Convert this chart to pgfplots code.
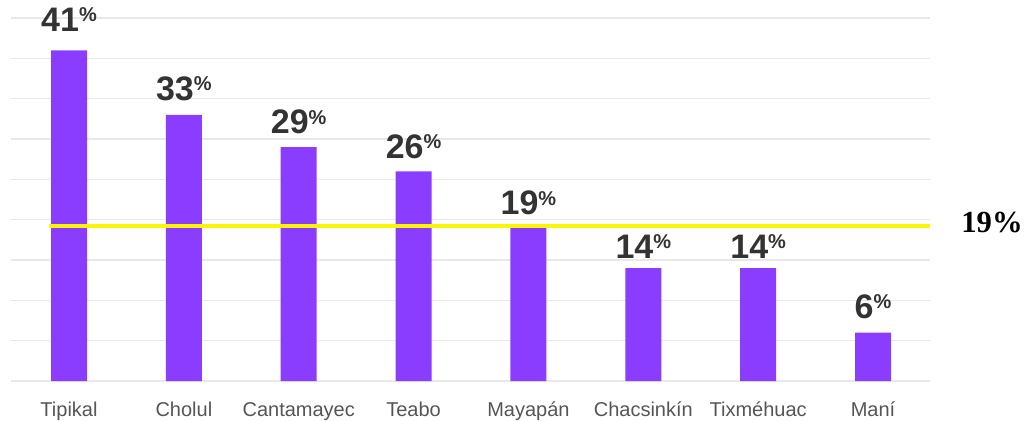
\documentclass[border=0pt]{standalone}
\usepackage{pgfplots}
\pgfplotsset{compat=1.18}
\usepackage{fontspec}
\setmainfont{Liberation Sans}
\newfontfamily\serifb{Liberation Serif}
\definecolor{barpurple}{HTML}{8A3CFF}
\definecolor{labdark}{HTML}{333333}
\definecolor{tickgray}{HTML}{555555}
\definecolor{gridgray}{HTML}{E8E8E8}
\definecolor{refyellow}{HTML}{FAF500}
\begin{document}
\begin{tikzpicture}[x=0.75pt,y=0.75pt]
\begin{axis}[
  at={(8.25pt,30pt)}, anchor=south west,
  scale only axis,
  width=689.25pt, height=272.25pt,
  xmin=-0.505, xmax=7.496,
  ymin=0, ymax=45,
  ytick={0,5,...,45},
  yticklabels={},
  ymajorgrids,
  grid style={gridgray, line width=1pt},
  axis line style={draw=none},
  major tick length=0pt,
  xtick={0,...,7},
  xticklabels={Tipikal,Cholul,Cantamayec,Teabo,Mayap\'an,Chacsink\'in,Tixm\'ehuac,Man\'i},
  xticklabel style={font=\fontsize{15}{15}\selectfont, text=tickgray, anchor=base, yshift=-26.5pt},
  clip=false,
  /pgf/number format/assume math mode=true,
]
% bars
\addplot[ybar, bar width=27pt, fill=barpurple, draw=none] coordinates {
  (0,41) (1,33) (2,29) (3,26) (4,19) (5,14) (6,14) (7,6)
};
% reference line (average 19%)
\addplot[sharp plot, refyellow, line width=3pt, forget plot] coordinates {(-0.174,19.2) (7.496,19.2)};
% value labels (baseline positions, meta = bar value)
\addplot[draw=none, mark=none, point meta=explicit,
  nodes near coords={\fontsize{25.5}{25.5}\selectfont\bfseries\pgfmathprintnumber{\pgfplotspointmeta}\raisebox{7.3pt}{\fontsize{15}{15}\selectfont\%}},
  every node near coord/.style={anchor=base, inner sep=0pt, text=labdark}]
coordinates {
  (0,43.30) [41] (1,34.75) [33] (2,30.62) [29] (3,27.61) [26]
  (4,20.58) [19] (5,15.21) [14] (6,15.21) [14] (7,7.77) [6]
};
\end{axis}
\node[anchor=base, inner sep=0pt] at (992,188.3) {\serifb\bfseries\fontsize{23}{23}\selectfont 19\%};
\pgfresetboundingbox
\path[use as bounding box] (0,0) rectangle (1028,421);
\end{tikzpicture}
\end{document}
